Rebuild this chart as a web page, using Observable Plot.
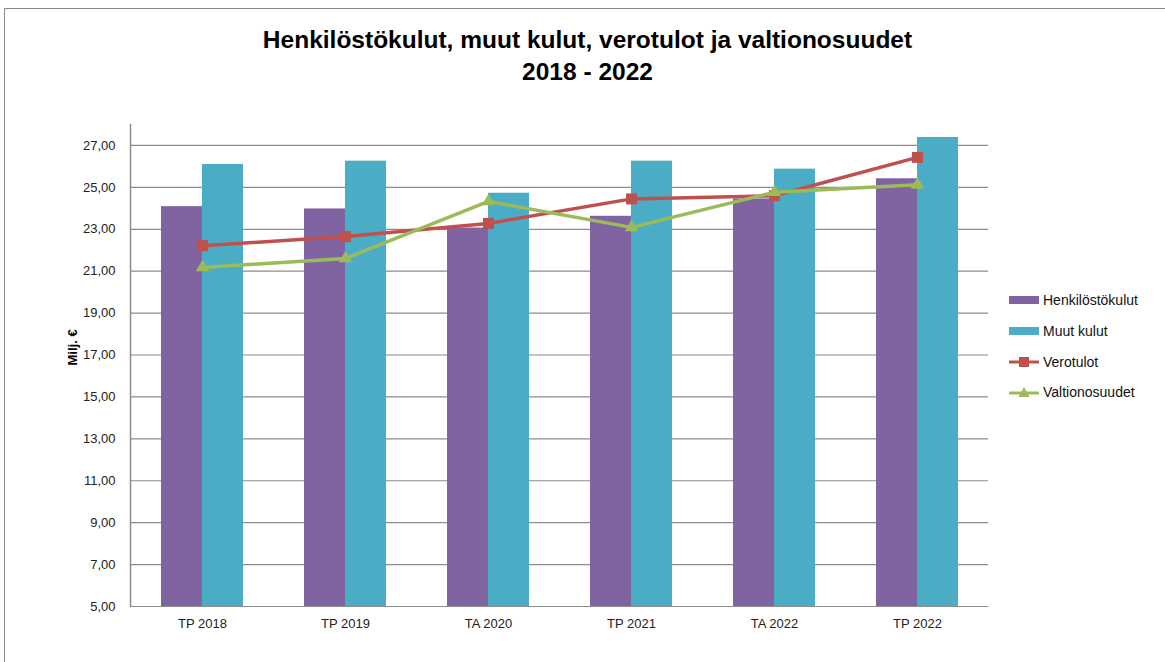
<!DOCTYPE html>
<html>
<head>
<meta charset="utf-8">
<script src="https://cdn.jsdelivr.net/npm/d3@7"></script>
<script src="https://cdn.jsdelivr.net/npm/@observablehq/plot@0.6"></script>
<style>
  html, body { margin: 0; padding: 0; background: #fff; }
  #wrap { position: relative; width: 1165px; height: 662px; overflow: hidden; font-family: "Liberation Sans", Arial, sans-serif; }
  #frame { position: absolute; left: 4px; top: 8px; width: 1200px; height: 700px; border-top: 1.5px solid #8a8a8a; border-left: 1.5px solid #8a8a8a; pointer-events: none; }
  #title { position: absolute; left: 0; top: 24px; width: 1175px; text-align: center; font-weight: bold; font-size: 24.5px; line-height: 32px; color: #000; }
  #legend { position: absolute; left: 1008px; top: 285px; font-family: "Liberation Sans", Arial, sans-serif; font-size: 14px; color: #111; }
  .item { display: flex; align-items: center; height: 30.7px; }
  .item svg { margin-right: 3px; }
  #chart { position: absolute; left: 0; top: 0; }
</style>
</head>
<body>
<div id="wrap">
  <div id="chart"></div>
  <div id="frame"></div>
  <div id="title">Henkilöstökulut, muut kulut, verotulot ja valtionosuudet<br>2018 - 2022</div>
  <div id="legend"></div>
</div>
<script>
const categories = ["TP 2018", "TP 2019", "TA 2020", "TP 2021", "TA 2022", "TP 2022"];
const henkilostokulut = [24.08, 23.97, 23.06, 23.62, 24.45, 25.41];
const muutKulut = [26.09, 26.25, 24.72, 26.25, 25.87, 27.38];
const verotulot = [22.22, 22.65, 23.28, 24.45, 24.60, 26.43];
const valtionosuudet = [21.18, 21.61, 24.33, 23.09, 24.77, 25.12];
const yTicks = [5, 7, 9, 11, 13, 15, 17, 19, 21, 23, 25, 27];
const seriesNames = ["Henkilöstökulut", "Muut kulut", "Verotulot", "Valtionosuudet"];
const colors = ["#8064A2", "#4BACC6", "#C0504D", "#9BBB59"];

const W = 1165, H = 662, ML = 130, MR = 177, MT = 124, MB = 56;
const padInner = 0.427;
const step = (W - ML - MR) / categories.length;
const half = step * (1 - padInner) / 2;

const rows = (vals) => categories.map((c, i) => ({cat: c, v: vals[i]}));
const fmt = d => d3.format(".2f")(d).replace(".", ",");

const chart = Plot.plot({
  width: W, height: H,
  marginLeft: ML, marginRight: MR, marginTop: MT, marginBottom: MB,
  style: {fontFamily: "'Liberation Sans', Arial, sans-serif", fontSize: "13px", color: "#222", background: "transparent"},
  x: {domain: categories, paddingInner: padInner, paddingOuter: padInner / 2, label: null},
  y: {domain: [5, 28], label: null},
  marks: [
    Plot.ruleY(yTicks, {stroke: "#8c8c8c", strokeWidth: 1.2}),
    Plot.barY(rows(henkilostokulut), {x: "cat", y: "v", fill: colors[0], insetRight: half, insetLeft: 0, clip: true}),
    Plot.barY(rows(muutKulut), {x: "cat", y: "v", fill: colors[1], insetLeft: half, insetRight: 0, clip: true}),
    Plot.frame({anchor: "left", stroke: "#8c8c8c", strokeWidth: 1.5}),
    Plot.line(rows(verotulot), {x: "cat", y: "v", stroke: colors[2], strokeWidth: 3.5}),
    Plot.dot(rows(verotulot), {x: "cat", y: "v", symbol: "square", r: 6.2, fill: colors[2], stroke: null}),
    Plot.line(rows(valtionosuudet), {x: "cat", y: "v", stroke: colors[3], strokeWidth: 3.5}),
    Plot.dot(rows(valtionosuudet), {x: "cat", y: "v", symbol: "triangle", r: 5, fill: colors[3], stroke: null}),
    Plot.axisY({ticks: yTicks, tickFormat: fmt, tickSize: 0, tickPadding: 15, label: null, fill: "#222"}),
    Plot.axisX({tickSize: 0, tickPadding: 12, label: null, fill: "#222"}),
    Plot.text(["Milj. €"], {frameAnchor: "left", dx: -58, rotate: -90, fontWeight: "bold", fontSize: 13, fill: "#000"})
  ]
});
document.getElementById("chart").appendChild(chart);

// legend
const leg = document.getElementById("legend");
seriesNames.forEach((name, i) => {
  const div = document.createElement("div");
  div.className = "item";
  let sw;
  if (i < 2) {
    sw = `<svg width="32" height="12"><rect x="1" y="2" width="30" height="8" fill="${colors[i]}"/></svg>`;
  } else if (i === 2) {
    sw = `<svg width="32" height="12"><line x1="1" x2="31" y1="6" y2="6" stroke="${colors[i]}" stroke-width="3"/><rect x="11" y="1" width="10" height="10" fill="${colors[i]}"/></svg>`;
  } else {
    sw = `<svg width="32" height="12"><line x1="1" x2="31" y1="7" y2="7" stroke="${colors[i]}" stroke-width="3"/><path d="M16,1 L21.5,11 L10.5,11 Z" fill="${colors[i]}"/></svg>`;
  }
  div.innerHTML = sw + `<span>${name}</span>`;
  leg.appendChild(div);
});
</script>
</body>
</html>
